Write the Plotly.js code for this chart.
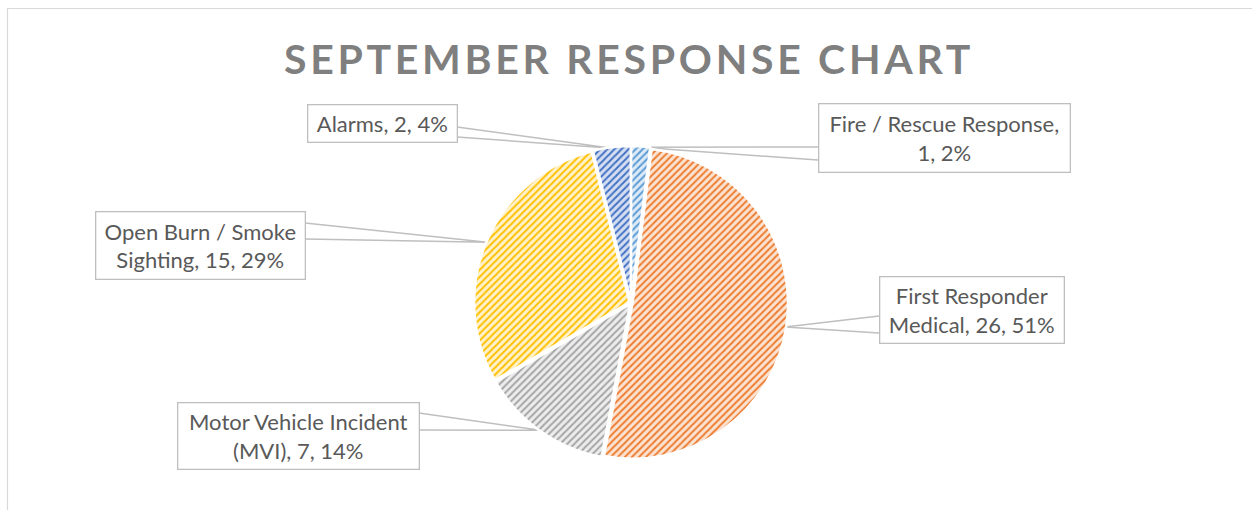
<!DOCTYPE html>
<html>
<head>
<meta charset="utf-8">
<script src="https://cdn.plot.ly/plotly-3.0.1.min.js"></script>
<style>
  html, body { margin: 0; padding: 0; background: #ffffff; }
  #chart { width: 1252px; height: 510px; }
</style>
</head>
<body>
<div id="chart"></div>
<script>
// ---- Data ----
const chartTitle = 'SEPTEMBER RESPONSE CHART';
const categories = ['Fire / Rescue Response', 'First Responder Medical', 'Motor Vehicle Incident (MVI)', 'Open Burn / Smoke Sighting', 'Alarms'];
const counts = [1, 26, 7, 15, 2];
const sliceColors = ['#5B9BD5', '#ED7D31', '#A5A5A5', '#FFC000', '#4472C4'];
const sliceTints = ['#DDEBF7', '#FBE3D2', '#EDEDED', '#FFF2CC', '#D4DEF1'];

// ---- Layout helpers (positions in pixels of the 1252x510 figure) ----
const W = 1252, H = 510;
const px = x => x / W;
const py = y => 1 - y / H;

const pieCx = 631, pieCy = 303, pieHalf = 157, pullFrac = 0.01;

// label boxes: left, top, right, bottom, attach edge and the two wedge base y's, wrap width in chars
const labelBoxes = [
  {l: 818, t: 104, r: 1070, b: 173, edge: 'left',  y1: 147, y2: 160, wrap: 23},
  {l: 879, t: 276, r: 1064, b: 343, edge: 'left',  y1: 316, y2: 333, wrap: 16},
  {l: 177, t: 402, r: 419,  b: 469, edge: 'right', y1: 413, y2: 430, wrap: 22},
  {l: 95,  t: 211, r: 305,  b: 279, edge: 'right', y1: 223, y2: 239, wrap: 17},
  {l: 307, t: 104, r: 457,  b: 142, edge: 'right', y1: 127, y2: 137, wrap: 20}
];

function wrapText(s, maxChars) {
  const words = s.split(' ');
  const lines = [];
  let cur = '';
  words.forEach(w => {
    const cand = cur ? cur + ' ' + w : w;
    if (cand.length > maxChars && cur) { lines.push(cur); cur = w; }
    else cur = cand;
  });
  if (cur) lines.push(cur);
  return lines.join('<br>');
}

const total = counts.reduce((a, b) => a + b, 0);
const pcts = counts.map(v => Math.round(100 * v / total));

// slice mid angles (clockwise from 12 o'clock)
const radius = pieHalf / (1 + pullFrac);
let cum = 0;
const midAngles = counts.map(v => {
  const a = (cum + v / 2) / total * 2 * Math.PI;
  cum += v;
  return a;
});

const annotations = [];
const shapes = [];

labelBoxes.forEach((bx, i) => {
  const txt = wrapText(categories[i] + ', ' + counts[i] + ', ' + pcts[i] + '%', bx.wrap);
  annotations.push({
    xref: 'paper', yref: 'paper',
    x: px((bx.l + bx.r) / 2), y: py((bx.t + bx.b) / 2),
    xanchor: 'center', yanchor: 'middle',
    width: bx.r - bx.l - 2, height: bx.b - bx.t - 2,
    showarrow: false, align: 'center', valign: 'middle',
    text: txt,
    font: {family: 'Lato, "Open Sans", sans-serif', size: 22, color: '#595959'},
    bgcolor: '#ffffff', bordercolor: '#BFBFBF', borderwidth: 1.3, borderpad: 0
  });
  const rr = radius * (1 + pullFrac) - 1;
  const tx = pieCx + rr * Math.sin(midAngles[i]);
  const ty = pieCy - rr * Math.cos(midAngles[i]);
  const ex = bx.edge === 'left' ? bx.l : bx.r;
  shapes.push({
    type: 'path', xref: 'paper', yref: 'paper',
    path: 'M ' + px(ex) + ',' + py(bx.y1) + ' L ' + px(tx) + ',' + py(ty) + ' L ' + px(ex) + ',' + py(bx.y2),
    line: {color: '#BFBFBF', width: 1.5}, layer: 'below'
  });
});

// chart frame (left and top edges visible)
shapes.push({
  type: 'path', xref: 'paper', yref: 'paper',
  path: 'M ' + px(7.5) + ',' + py(H + 5) + ' L ' + px(7.5) + ',' + py(8.5) + ' L ' + px(W + 5) + ',' + py(8.5),
  line: {color: '#D9D9D9', width: 1.2}, layer: 'below'
});

const trace = {
  type: 'pie',
  labels: categories,
  values: counts,
  sort: false,
  direction: 'clockwise',
  rotation: 0,
  pull: counts.map(() => pullFrac),
  textinfo: 'none',
  hoverinfo: 'label+value+percent',
  showlegend: false,
  domain: {
    x: [px(pieCx - pieHalf), px(pieCx + pieHalf)],
    y: [py(pieCy + pieHalf), py(pieCy - pieHalf)]
  },
  marker: {
    colors: sliceColors,
    line: {color: '#ffffff', width: 2.5},
    pattern: {
      shape: '/',
      fgcolor: sliceColors,
      bgcolor: sliceTints,
      fillmode: 'replace',
      size: 5,
      solidity: 0.4
    }
  }
};

const layout = {
  width: W, height: H,
  margin: {l: 0, r: 0, t: 0, b: 0},
  paper_bgcolor: '#ffffff',
  plot_bgcolor: '#ffffff',
  title: {
    text: chartTitle,
    x: px(629), xanchor: 'center',
    y: py(60), yanchor: 'middle',
    xref: 'paper', yref: 'paper',
    font: {family: 'Lato, "Open Sans", sans-serif', size: 41, color: '#7F7F7F', weight: 700}
  },
  annotations: annotations,
  shapes: shapes
};

Plotly.newPlot('chart', [trace], layout, {displayModeBar: false, staticPlot: true}).then(() => {
  document.querySelectorAll('.gtitle').forEach(el => { el.style.letterSpacing = '3.7px'; });
});
</script>
</body>
</html>
